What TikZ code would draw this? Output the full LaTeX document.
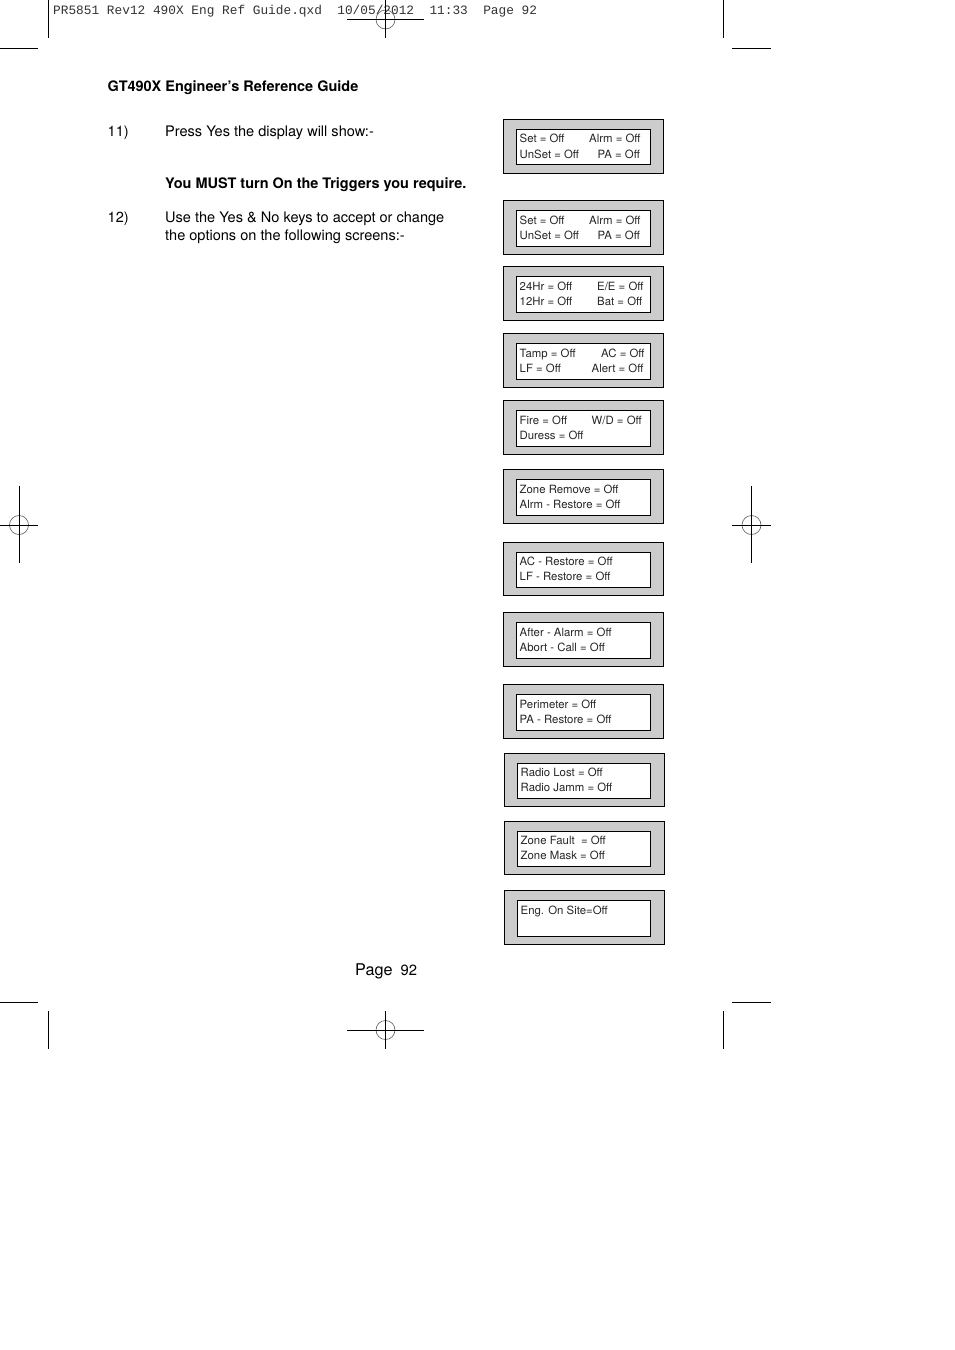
\documentclass[tikz,border=0pt]{standalone}
\usepackage{fontspec}
\setmainfont{TeX Gyre Heros}
\newfontfamily\hdrfont{Liberation Mono}
\tikzset{
  body/.style={anchor=base west,inner sep=0pt,font=\fontsize{14.55}{16}\selectfont,text=black},
  bodybold/.style={body,font=\fontsize{14.47}{16}\selectfont\bfseries},
  lcd/.style={anchor=base west,inner sep=0pt,font=\fontsize{11.38}{13}\selectfont,text=black!85},
  outerbox/.style={draw=black,line width=0.9pt,fill=black!20},
  innerbox/.style={draw=black,line width=0.9pt,fill=white},
  crop/.style={draw=black,line width=0.8pt},
  regcircle/.style={draw=black!65,line width=0.6pt},
}
% \lcdpanel{name}{x0}{y0}{x1}{y1}{ix0}{iy0}{iy1}
\newcommand{\lcdpanel}[8]{%
  \path[outerbox] (#2,#3) rectangle (#4,#5);
  \path[innerbox] (#6,#7) rectangle (650,#8);
  \coordinate (#1) at (#6,#7);
}
\begin{document}
\begin{tikzpicture}[x=1pt,y=-1pt]
\useasboundingbox[fill=white] (0,0) rectangle (954,1350);

% crop marks
\draw[crop] (48,0) -- (48,38);
\draw[crop] (0,48) -- (38,48);
\draw[crop] (723,0) -- (723,38);
\draw[crop] (732,48) -- (771,48);
\draw[crop] (0,1002) -- (38,1002);
\draw[crop] (48,1011) -- (48,1049);
\draw[crop] (723,1011) -- (723,1049);
\draw[crop] (732,1002) -- (771,1002);

\node[anchor=base west,inner sep=0pt,font=\hdrfont\fontsize{12.8}{14}\selectfont,text=black!80] (hdr) at (53,14.5)
  {PR5851 Rev12 490X Eng Ref Guide.qxd~~10/05/2012~~11:33~~Page 92};

\node[circle,regcircle,minimum size=19pt,inner sep=0pt] (regt) at (385.5,19.5) {};
\draw[crop] (347,19.5) -- (424,19.5);
\draw[crop] (385.5,0) -- (385.5,38);
\node[circle,regcircle,minimum size=19pt,inner sep=0pt] (regb) at (385.5,1030) {};
\draw[crop] (347,1030) -- (424,1030);
\draw[crop] (385.5,1011) -- (385.5,1049);
\node[circle,regcircle,minimum size=19pt,inner sep=0pt] (regl) at (19,525) {};
\draw[crop] (0,525) -- (38,525);
\draw[crop] (19,486) -- (19,563);
\node[circle,regcircle,minimum size=19pt,inner sep=0pt] (regr) at (751.5,525) {};
\draw[crop] (732,525) -- (771,525);
\draw[crop] (751.5,486) -- (751.5,563);

% body text
\node[bodybold] (title) at (107.5,91) {GT490X Engineer’s Reference Guide};
\node[body] (n11) at (107.5,136) {11)};
\node[body] (t11) at (165,136) {Press Yes the display will show:-};
\node[bodybold] (must) at (165,188) {You MUST turn On the Triggers you require.};
\node[body] (n12) at (107.5,222) {12)};
\node[body] (t12a) at (165,222) {Use the Yes \& No keys to accept or change};
\node[body] (t12b) at (165,240) {the options on the following screens:-};
\node[anchor=base west,inner sep=0pt,font=\fontsize{16.2}{18}\selectfont] (page) at (355,975) {Page};
\node[anchor=base west,inner sep=0pt,font=\fontsize{14.8}{16}\selectfont] (pnum) at (400.5,975) {92};

% panels
\lcdpanel{p1}{503.5}{119.5}{663.5}{173.5}{516.5}{129.5}{164.5}
\node[lcd] (a1) at (519.5,142) {Set = Off};
\node[lcd] (b1) at (589,142) {Alrm = Off};
\node[lcd] (c1) at (519.5,158) {UnSet = Off};
\node[lcd] (d1) at (597.5,158) {PA = Off};

\lcdpanel{p2}{503.5}{200.5}{663.5}{254.5}{516.5}{210.5}{246.5}
\node[lcd] (a2) at (519.5,224) {Set = Off};
\node[lcd] (b2) at (589,224) {Alrm = Off};
\node[lcd] (c2) at (519.5,239) {UnSet = Off};
\node[lcd] (d2) at (597.5,239) {PA = Off};

\lcdpanel{p3}{503.5}{266.5}{663.5}{320.5}{516.5}{276.5}{312.5}
\node[lcd] (a3) at (519.5,290) {24Hr = Off};
\node[lcd] (b3) at (597,290) {E/E = Off};
\node[lcd] (c3) at (519.5,305) {12Hr = Off};
\node[lcd] (d3) at (597,305) {Bat = Off};

\lcdpanel{p4}{503.5}{333.5}{663.5}{387.5}{516.5}{343.5}{379.5}
\node[lcd] (a4) at (519.5,357) {Tamp = Off};
\node[lcd] (b4) at (601,357) {AC = Off};
\node[lcd] (c4) at (519.5,372) {LF = Off};
\node[lcd] (d4) at (591.5,372) {Alert = Off};

\lcdpanel{p5}{503.5}{400.5}{663.5}{454.5}{516.5}{410.5}{446.5}
\node[lcd] (a5) at (519.5,424) {Fire = Off};
\node[lcd] (b5) at (591.5,424) {W/D = Off};
\node[lcd] (c5) at (519.5,439) {Duress = Off};

\lcdpanel{p6}{503.5}{469.5}{663.5}{523.5}{516.5}{479.5}{515.5}
\node[lcd] (a6) at (519.5,493) {Zone Remove = Off};
\node[lcd] (c6) at (519.5,508) {Alrm - Restore = Off};

\lcdpanel{p7}{503.5}{542.5}{663.5}{595.5}{516.5}{552.5}{587.5}
\node[lcd] (a7) at (519.5,565) {AC - Restore = Off};
\node[lcd] (c7) at (519.5,580) {LF - Restore = Off};

\lcdpanel{p8}{503.5}{612.5}{663.5}{666.5}{516.5}{622.5}{658.5}
\node[lcd] (a8) at (519.5,636) {After - Alarm = Off};
\node[lcd] (c8) at (519.5,651) {Abort - Call = Off};

\lcdpanel{p9}{503.5}{684.5}{663.5}{738.5}{516.5}{694.5}{730.5}
\node[lcd] (a9) at (519.5,708) {Perimeter = Off};
\node[lcd] (c9) at (519.5,723) {PA - Restore = Off};

\lcdpanel{p10}{504.5}{753.5}{664.5}{806.5}{517.5}{763.5}{798.5}
\node[lcd] (a10) at (520.5,776) {Radio Lost = Off};
\node[lcd] (c10) at (520.5,791) {Radio Jamm = Off};

\lcdpanel{p11}{504.5}{821.5}{664.5}{874.5}{517.5}{831.5}{866.5}
\node[lcd] (a11) at (520.5,844) {Zone Fault~~= Off};
\node[lcd] (c11) at (520.5,859) {Zone Mask = Off};

\lcdpanel{p12}{504.5}{890.5}{664.5}{944.5}{517.5}{900.5}{936.5}
\node[lcd] (a12) at (520.5,914) {Eng. On Site=Off};
\end{tikzpicture}
\end{document}
